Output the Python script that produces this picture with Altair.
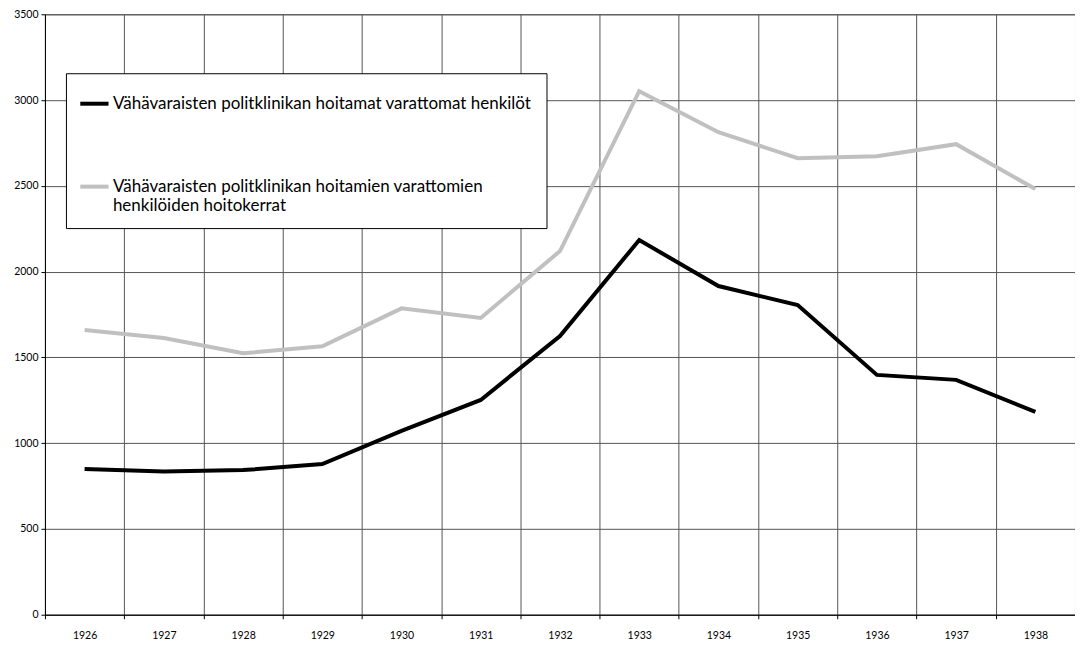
import altair as alt
import pandas as pd

years = [str(y) for y in range(1926, 1939)]
persons = [850, 835, 843, 878, 1072, 1252, 1625, 2184, 1916, 1805, 1398, 1369, 1182]
visits = [1660, 1613, 1524, 1565, 1786, 1730, 2120, 3052, 2813, 2661, 2673, 2743, 2481]
series_names = [
    "Vähävaraisten politklinikan hoitamat varattomat henkilöt",
    "Vähävaraisten politklinikan hoitamien varattomien henkilöiden hoitokerrat",
]

rows = []
for i, y in enumerate(years):
    rows.append({"year": y, "value": persons[i], "series": series_names[0], "order": 0})
    rows.append({"year": y, "value": visits[i], "series": series_names[1], "order": 1})
df = pd.DataFrame(rows)

FONT = "Lato"

chart = alt.Chart(df).mark_line(strokeWidth=4, strokeJoin="miter").encode(
    x=alt.X("year:O", bandPosition=0.5,
            scale=alt.Scale(type="band", paddingInner=0, paddingOuter=0),
            axis=alt.Axis(title=None, labelAngle=0, tickBand="extent", grid=True,
                          labelPadding=12, labelFontSize=10.5)),
    y=alt.Y("value:Q", scale=alt.Scale(domain=[0, 3500], nice=False),
            axis=alt.Axis(title=None, values=list(range(0, 3501, 500)), grid=True,
                          format="d", labelFontSize=10.5, labelPadding=3)),
    color=alt.Color("series:N",
                    scale=alt.Scale(domain=series_names, range=["#000000", "#c0c0c0"]),
                    legend=alt.Legend(
                        title=None, orient="none", legendX=21, legendY=59,
                        direction="vertical",
                        symbolType="stroke", symbolStrokeWidth=4, symbolSize=800,
                        labelFontSize=17, labelFont=FONT, labelLimit=700,
                        labelExpr="datum.label == '" + series_names[1] + "' ? ['Vähävaraisten politklinikan hoitamien varattomien', 'henkilöiden hoitokerrat'] : datum.label",
                        rowPadding=58, padding=14,
                        fillColor="white", strokeColor="black",
                        symbolOffset=-2, labelOffset=2,
                    )),
    order="order:Q",
).properties(
    width=1031, height=601,
    autosize=alt.AutoSizeParams(type="none"),
    padding={"left": 37, "top": 6, "right": 0, "bottom": 30},
).configure_axis(
    gridColor="#555555", gridOpacity=1, gridWidth=1,
    domainColor="#000000", tickColor="#000000", tickSize=4,
    labelFont=FONT, labelColor="#000000",
).configure_view(stroke="#555555")

chart.save("out.html", embed_options={"renderer": "svg", "actions": False})
